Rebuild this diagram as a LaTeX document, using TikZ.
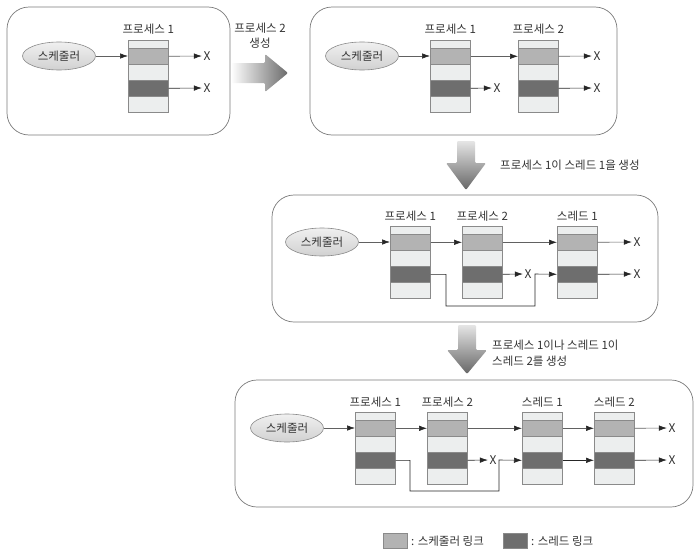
\documentclass[tikz,border=0pt]{standalone}
\usepackage{fontspec}
\setmainfont{Noto Sans CJK KR}
\usetikzlibrary{arrows.meta,calc,shapes.geometric}
\definecolor{bandL}{HTML}{ECEEEE}
\definecolor{bandM}{HTML}{B3B3B3}
\definecolor{bandD}{HTML}{6E6E6E}
\definecolor{edgeC}{HTML}{8A8A8A}
\definecolor{panelE}{HTML}{7A7A7A}
\definecolor{txt}{HTML}{333333}
\newcommand\pblk[3]{%
  \node[blk, anchor=north west] (#1) at (#2,#3) {};
  \node[band, fill=bandM, anchor=north west] (#1s) at (#2,#3+8) {};
  \node[band, fill=bandD, anchor=north west] (#1t) at (#2,#3+40) {};
}
\tikzset{
  panel/.style={draw=panelE, line width=0.7pt, rounded corners=22pt, inner sep=0pt},
  blk/.style={draw=edgeC, fill=bandL, line width=0.6pt, minimum width=40pt, minimum height=72pt, inner sep=0pt},
  band/.style={draw=edgeC, line width=0.6pt, minimum width=40pt, minimum height=16pt, inner sep=0pt},
  sched/.style={ellipse, draw=edgeC, line width=0.6pt, top color=black!6, bottom color=black!18, minimum width=73pt, minimum height=28pt, inner sep=0pt, text=txt, font=\fontsize{11.5}{13}\selectfont},
  lbl/.style={text=txt, inner sep=0pt, font=\fontsize{11.5}{13}\selectfont},
  xmark/.style={text=txt, inner sep=1.5pt, font=\fontsize{12}{13}\selectfont},
  slink/.style={draw=black!62, line width=0.6pt, -{Latex[length=8pt,width=5.5pt,color=black!85]}},
  tlink/.style={draw=black!85, line width=0.6pt, -{Latex[length=8pt,width=5.5pt]}},
  lgd/.style={draw=edgeC, line width=0.6pt, minimum width=24pt, minimum height=15pt, inner sep=0pt},
}
\begin{document}
\begin{tikzpicture}[x=1pt, y=-1pt]
\useasboundingbox (0,0) rectangle (697,557);

% ---------- panel 1 ----------
\node[panel, minimum width=223pt, minimum height=128pt] (P1) at (118.5,71) {};
\node[sched] (e1) at (59,56) {스케줄러};
\pblk{a1}{128}{40}
\node[lbl, yshift=11pt] (a1l) at (a1.north) {프로세스 1};
\node[xmark] (xa1) at (207,56) {X};
\node[xmark] (xa2) at (207,88) {X};
\draw[slink] (e1.east) -- (e1.east -| a1s.west);
\draw[slink] (a1s.east) -- (xa1.west);
\draw[tlink] (a1t.east) -- (xa2.west);

% big right arrow
\shade[left color=white, right color=black!58, rounded corners=1.2pt]
  (231,63) -- (265,63) -- (265,54) -- (288,73) -- (265,92) -- (265,83) -- (231,83) -- cycle;
\node[lbl] (t12a) at (260,28) {프로세스 2};
\node[lbl] (t12b) at (260,43) {생성};

% ---------- panel 2 ----------
\node[panel, minimum width=307pt, minimum height=128pt] (P2) at (463.5,71) {};
\node[sched] (e2) at (362,56) {스케줄러};
\pblk{b1}{430}{40}
\pblk{b2}{518}{40}
\node[lbl, yshift=11pt] (b1l) at (b1.north) {프로세스 1};
\node[lbl, yshift=11pt] (b2l) at (b2.north) {프로세스 2};
\node[xmark] (xb1) at (497,88) {X};
\node[xmark] (xb2) at (597,56) {X};
\node[xmark] (xb3) at (597,88) {X};
\draw[slink] (e2.east) -- (e2.east -| b1s.west);
\draw[slink] (b1s.east) -- (b2s.west);
\draw[slink] (b2s.east) -- (xb2.west);
\draw[tlink] (b1t.east) -- (xb1.west);
\draw[tlink] (b2t.east) -- (xb3.west);

% down arrow 1
\shade[top color=black!10, bottom color=black!60, rounded corners=1.2pt]
  (457,141) -- (475,141) -- (475,163) -- (486,163) -- (466,190) -- (446,163) -- (457,163) -- cycle;
\node[lbl, anchor=west] (t23) at (500,165) {프로세스 1이 스레드 1을 생성};

% ---------- panel 3 ----------
\node[panel, minimum width=386pt, minimum height=127pt] (P3) at (465,258.5) {};
\node[sched] (e3) at (322,242) {스케줄러};
\pblk{c1}{390}{226}
\pblk{c2}{462}{226}
\pblk{c3}{557}{226}
\node[lbl, yshift=10pt] (c1l) at (c1.north) {프로세스 1};
\node[lbl, yshift=10pt] (c2l) at (c2.north) {프로세스 2};
\node[lbl, yshift=10pt] (c3l) at (c3.north) {스레드 1};
\node[xmark] (xc1) at (528,274) {X};
\node[xmark] (xc2) at (637,242) {X};
\node[xmark] (xc3) at (637,274) {X};
\draw[slink] (e3.east) -- (e3.east -| c1s.west);
\draw[slink] (c1s.east) -- (c2s.west);
\draw[slink] (c2s.east) -- (c3s.west);
\draw[slink] (c3s.east) -- (xc2.west);
\draw[tlink] (c2t.east) -- (xc1.west);
\draw[tlink] (c3t.east) -- (xc3.west);
\draw[tlink] (c1t.east) -| (446,306) -| (535,274) -- (c3t.west);

% down arrow 2
\shade[top color=black!10, bottom color=black!60, rounded corners=1.2pt]
  (458,325) -- (476,325) -- (476,350) -- (487,350) -- (467,374) -- (447,350) -- (458,350) -- cycle;
\node[lbl, anchor=west] (t34a) at (492,345) {프로세스 1이나 스레드 1이};
\node[lbl, anchor=west] (t34b) at (492,361) {스레드 2를 생성};

% ---------- panel 4 ----------
\node[panel, minimum width=458pt, minimum height=127pt] (P4) at (464,443.5) {};
\node[sched] (e4) at (287,428) {스케줄러};
\pblk{d1}{355}{412}
\pblk{d2}{427}{412}
\pblk{d3}{522}{412}
\pblk{d4}{594}{412}
\node[lbl, yshift=10pt] (d1l) at (d1.north) {프로세스 1};
\node[lbl, yshift=10pt] (d2l) at (d2.north) {프로세스 2};
\node[lbl, yshift=10pt] (d3l) at (d3.north) {스레드 1};
\node[lbl, yshift=10pt] (d4l) at (d4.north) {스레드 2};
\node[xmark] (xd1) at (493,460) {X};
\node[xmark] (xd2) at (672,428) {X};
\node[xmark] (xd3) at (672,460) {X};
\draw[slink] (e4.east) -- (e4.east -| d1s.west);
\draw[slink] (d1s.east) -- (d2s.west);
\draw[slink] (d2s.east) -- (d3s.west);
\draw[slink] (d3s.east) -- (d4s.west);
\draw[slink] (d4s.east) -- (xd2.west);
\draw[tlink] (d2t.east) -- (xd1.west);
\draw[tlink] (d3t.east) -- (d4t.west);
\draw[tlink] (d4t.east) -- (xd3.west);
\draw[tlink] (d1t.east) -| (410,491) -| (499,460) -- (d3t.west);

% ---------- legend ----------
\node[lgd, fill=bandM] (lg1) at (395,540.5) {};
\node[lbl, anchor=west] (lg1t) at (411,541) {: 스케줄러 링크};
\node[lgd, fill=bandD] (lg2) at (515,540.5) {};
\node[lbl, anchor=west] (lg2t) at (531,541) {: 스레드 링크};
\end{tikzpicture}
\end{document}
